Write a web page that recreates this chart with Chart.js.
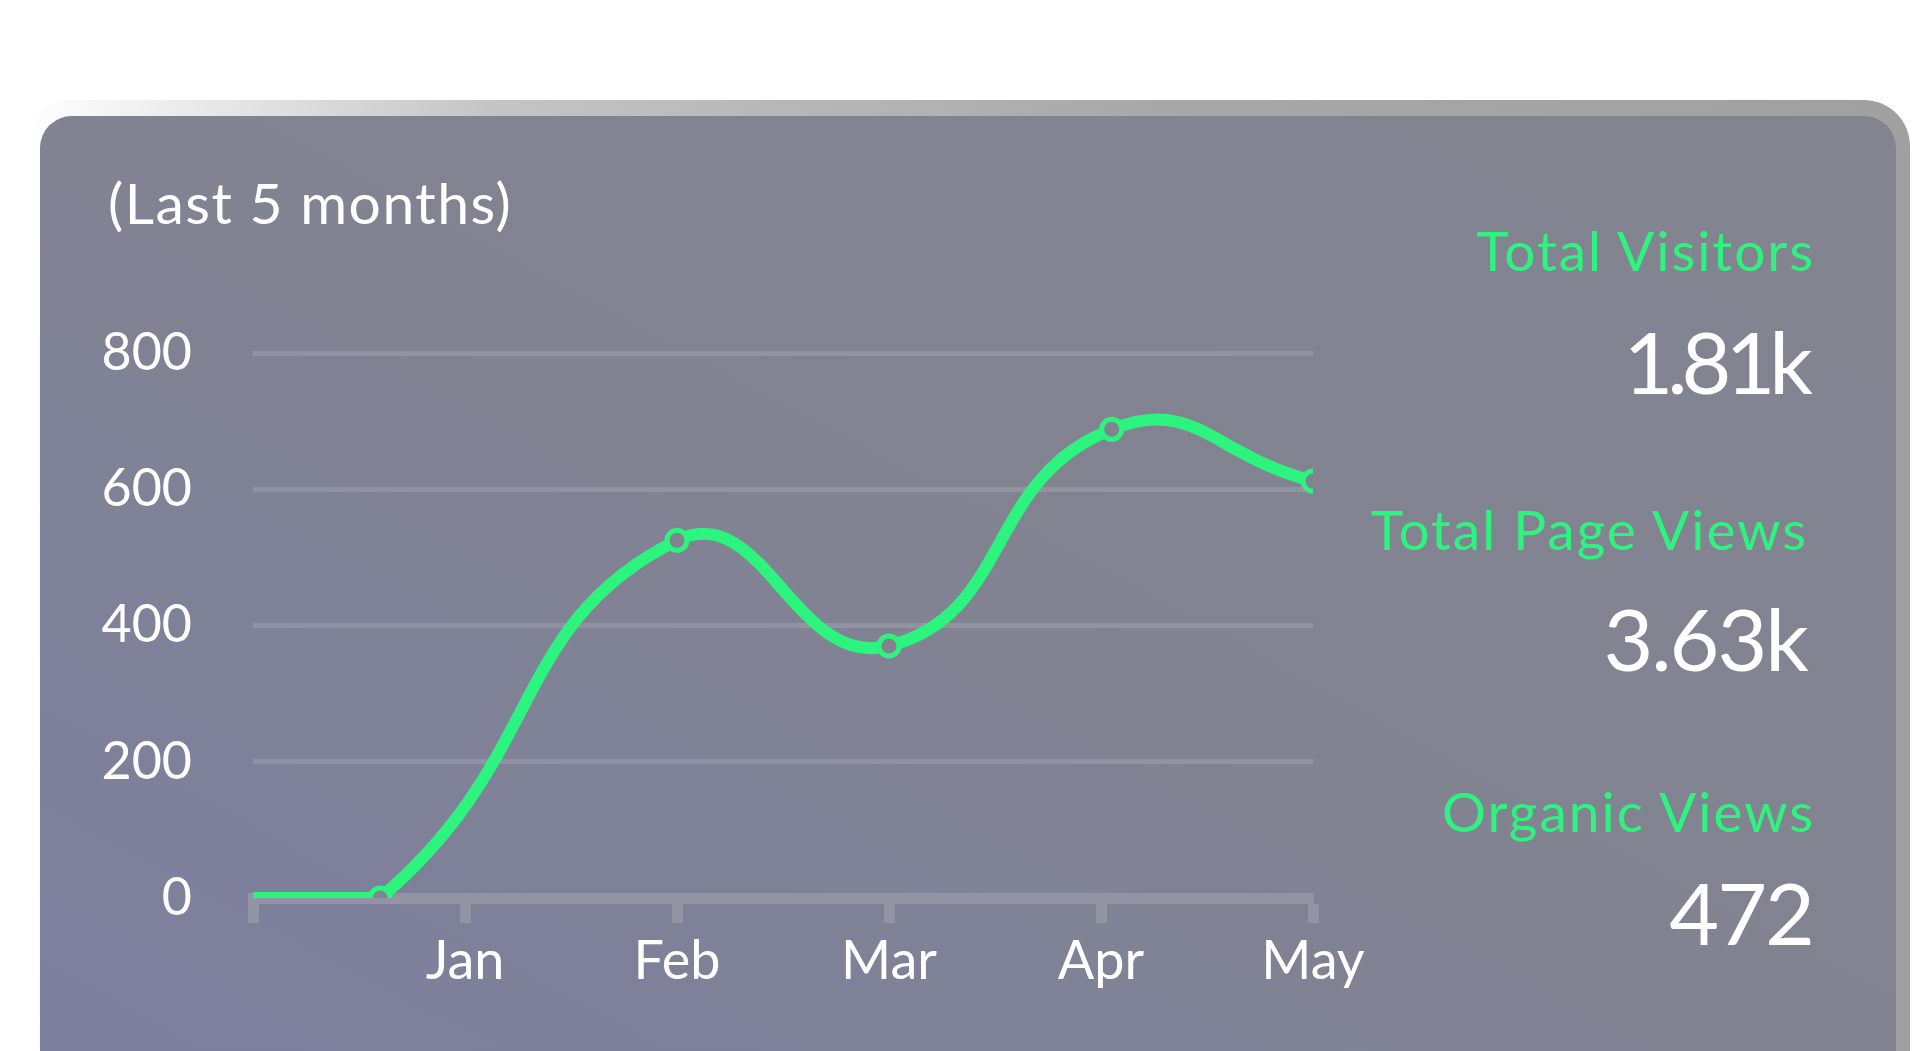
<!DOCTYPE html>
<html lang="en">
<head>
    <meta charset="UTF-8">
    <title>Visitors - Last 5 months</title>
    <script src="https://cdn.jsdelivr.net/npm/chart.js"></script>
    <style>
        html, body { margin: 0; padding: 0; background: #ffffff; width: 1920px; height: 1051px; overflow: hidden; font-family: Lato, "Noto Sans", sans-serif; }
        .frame {
            position: absolute; left: 25px; top: 100px; width: 1885px; height: 1000px;
            border-radius: 46px;
            background: linear-gradient(to right, #ffffff 0%, #c4c4c4 25%, #a8a8a8 60%, #a0a0a0 100%);
        }
        .card {
            position: absolute; left: 40px; top: 116px; width: 1856px; height: 1000px;
            border-radius: 32px;
            background: linear-gradient(to top right, #7d7fa0 0%, #818392 50%, #82848f 100%);
        }
        .txt { position: absolute; line-height: 1; white-space: nowrap; }
        .period { left: 108px; top: 174px; font-size: 57px; color: #ffffff; letter-spacing: 1.5px; }
        .lbl { color: #2ef47f; font-size: 55px; text-align: right; letter-spacing: 2px; }
        .val { color: #ffffff; font-size: 86px; text-align: right; letter-spacing: -2px; }
        #chartWrap { position: absolute; left: 0; top: 0; width: 1920px; height: 1051px; }
    </style>
</head>
<body>
    <div class="frame"></div>
    <div class="card"></div>
    <div class="txt period">(Last 5 months)</div>

    <div class="txt lbl" style="right:105px; top:223px;">Total Visitors</div>
    <div class="txt val" style="right:113px; top:318px; letter-spacing:-6px;">1.81k</div>
    <div class="txt lbl" style="right:112px; top:502px;">Total Page Views</div>
    <div class="txt val" style="right:113px; top:595px;">3.63k</div>
    <div class="txt lbl" style="right:105px; top:784px;">Organic Views</div>
    <div class="txt val" style="right:107px; top:869px;">472</div>

    <div id="chartWrap"><canvas id="visitasChart" width="1920" height="1051"></canvas></div>

    <script>
// datos
const tickLabels = ['', 'Jan', 'Feb', 'Mar', 'Apr', 'May'];
const pointMonth = [0, 0.6, 2.0, 3.0, 4.05, 5.0];
const visitors = [0, 0, 525, 370, 688, 612];
const yTicks = [0, 200, 400, 600, 800];

const verde = '#2cf47e';
const fondo = '#81838f';

window.onload = function() {
    const ctx = document.getElementById('visitasChart').getContext('2d');
    const puntos = pointMonth.map((m, i) => ({ x: m, y: visitors[i] }));

    new Chart(ctx, {
        type: 'line',
        data: {
            datasets: [{
                label: 'Visitors',
                data: puntos,
                borderColor: verde,
                borderWidth: 12,
                tension: 0.5,
                fill: false,
                pointRadius: pointMonth.map((m, i) => i === 0 ? 0 : 10),
                pointBorderWidth: 5,
                pointBorderColor: verde,
                pointBackgroundColor: fondo
            }]
        },
        options: {
            responsive: false,
            animation: false,
            events: [],
            layout: { padding: { left: 53, right: 607, top: 353, bottom: 33 } },
            plugins: { legend: { display: false }, tooltip: { enabled: false } },
            scales: {
                x: {
                    type: 'linear',
                    min: 0,
                    max: 5,
                    afterBuildTicks: scale => {
                        scale.ticks = tickLabels.map((t, i) => ({ value: i }));
                    },
                    afterFit: scale => { scale.height = 120; },
                    ticks: {
                        color: '#ffffff',
                        font: { family: 'Lato', size: 54 },
                        padding: 6,
                        maxRotation: 0,
                        autoSkip: false,
                        callback: (v, i) => tickLabels[i]
                    },
                    grid: {
                        drawOnChartArea: false,
                        drawTicks: true,
                        tickLength: 25,
                        tickWidth: 11,
                        tickColor: '#9294a3'
                    },
                    border: { display: true, color: '#9294a3', width: 11 }
                },
                y: {
                    min: 0,
                    max: 800,
                    z: 1,
                    afterBuildTicks: scale => {
                        scale.ticks = yTicks.map(v => ({ value: v }));
                    },
                    afterFit: scale => { scale.width = 200; },
                    ticks: {
                        color: '#ffffff',
                        font: { family: 'Lato', size: 52 },
                        padding: 61
                    },
                    grid: {
                        color: 'rgba(255,255,255,0.13)',
                        lineWidth: 5,
                        drawTicks: false
                    },
                    border: { display: false }
                }
            }
        }
    });
};
    </script>
</body>
</html>
